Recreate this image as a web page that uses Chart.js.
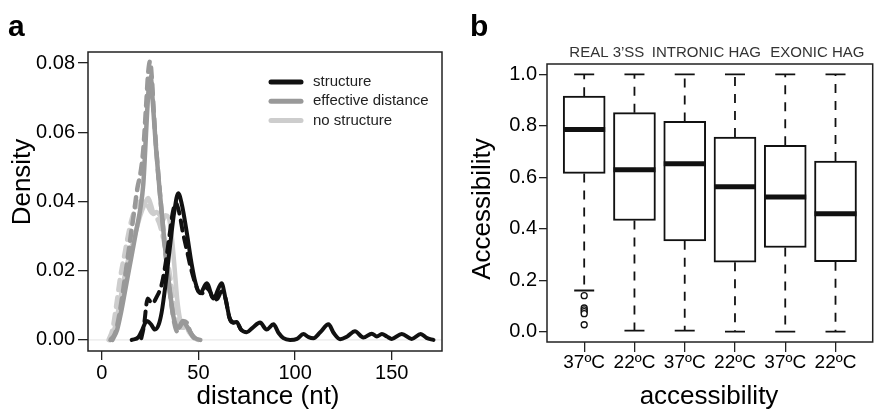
<!DOCTYPE html>
<html><head><meta charset="utf-8">
<script src="https://cdn.jsdelivr.net/npm/chart.js@4.4.0/dist/chart.umd.min.js"></script>
<style>
html,body{margin:0;padding:0;background:#fff;overflow:hidden;width:874px;height:413px;}
#ca{position:absolute;left:0;top:0;}
#cb{position:absolute;left:440px;top:0;}
</style></head><body>
<canvas id="ca" width="446" height="413"></canvas>
<canvas id="cb" width="438" height="413"></canvas>
<script>
// ---------- Panel a: density curves (x = distance nt, y = density) ----------
const structure = [[15.5,0],[19,0.0008],[21,0.003],[23.3,0.0055],[25.5,0.0045],[27.5,0.003],[29.5,0.0045],[31,0.008],[33,0.016],[35.3,0.027],[37.5,0.037],[39.6,0.0424],[41.5,0.039],[44,0.031],[46.5,0.022],[48.5,0.0165],[50.9,0.0135],[54.3,0.0164],[57.8,0.012],[62,0.0164],[64,0.012],[66.4,0.0058],[68,0.005],[69.8,0.0052],[72,0.003],[75,0.0022],[78,0.0035],[81.9,0.005],[85.3,0.003],[88.8,0.0045],[91.5,0.002],[94,0.0005],[97.4,0],[101,0.0003],[104.3,0.0017],[107,0.0008],[109.5,0.0005],[113,0.0022],[117.3,0.0045],[120,0.002],[123.3,0.0002],[127,0.001],[131,0.0025],[135.3,0.0007],[139.7,0.0018],[142.3,0.001],[144.9,0.0017],[147.5,0.001],[150,0.0003],[155.2,0.0017],[160.3,0.0003],[165,0.0017],[168,0.0006],[171.6,0]];
const structureDashed = [[20.5,0.0005],[21.8,0.004],[23.8,0.012],[26,0.0105],[28.5,0.0125],[31,0.016],[33,0.022],[35,0.03],[36.8,0.037],[38.3,0.0395],[40,0.037],[42,0.031],[44,0.026],[46,0.021],[48,0.017],[50,0.014],[52,0.0135],[54,0.015],[56,0.014],[58,0.0115],[60,0.012],[62,0.014],[64,0.012],[66,0.0065],[68,0.005],[70,0.0048],[72,0.003]];
const effective = [[5.5,0],[8,0.003],[10,0.008],[12,0.014],[14,0.02],[16,0.026],[18,0.032],[20,0.038],[21.5,0.045],[22.5,0.055],[23.5,0.066],[24.5,0.074],[25.3,0.076],[26.5,0.068],[28,0.056],[29.5,0.046],[31,0.037],[32.5,0.028],[34,0.02],[35.5,0.013],[37,0.007],[38.5,0.004],[40,0.0035],[41.5,0.005],[43,0.0048],[45,0.003],[47,0.0012],[49,0.0003],[51,0]];
const effectiveDashed = [[4.5,0],[7,0.002],[9,0.007],[11,0.014],[13,0.022],[15,0.03],[17,0.038],[18.5,0.044],[20,0.048],[21.5,0.055],[23,0.068],[24,0.077],[25,0.0805],[26,0.075],[27,0.065],[28.5,0.053],[30,0.043],[31.5,0.034],[33,0.025],[34.5,0.017],[36,0.0105],[37.5,0.005],[39,0.0025],[40.5,0.004],[42,0.0055],[44,0.005],[46,0.002],[48,0.0005],[50,0]];
const noStructure = [[4,0],[6,0.002],[8,0.007],[10,0.013],[12,0.019],[14,0.024],[16,0.028],[18,0.032],[20,0.036],[22,0.039],[24,0.041],[25.5,0.039],[27,0.0365],[28.5,0.037],[30,0.036],[31.5,0.0345],[33,0.036],[34.5,0.0355],[36,0.031],[37.5,0.022],[39,0.012],[40.5,0.006],[42,0.0035],[44,0.0038],[46,0.002],[48,0.0005],[50,0]];
const noStructureDashed = [[3.5,0],[5.5,0.003],[7.5,0.01],[9.5,0.018],[11.5,0.024],[13.5,0.03],[15.5,0.035],[17.5,0.038],[19.5,0.04],[21.5,0.04],[23.5,0.039],[25.5,0.037],[27.5,0.036],[29.5,0.034],[31.5,0.03],[33.5,0.025],[35.5,0.018],[37.5,0.01],[39.5,0.005],[41.5,0.0035],[43.5,0.0035],[45.5,0.002],[47.5,0.0006],[49.5,0]];
const distanceTicks = [0, 50, 100, 150];
const densityTicks = [0, 0.02, 0.04, 0.06, 0.08];
const legendLabels = ['structure', 'effective distance', 'no structure'];

// ---------- Panel b: accessibility box plots ----------
const conditions = ['37ºC', '22ºC', '37ºC', '22ºC', '37ºC', '22ºC'];
const groupLabels = ['REAL 3\u2019SS', 'INTRONIC HAG', 'EXONIC HAG'];
const groupCenters = [1.45, 3.43, 5.64];
const whiskerHigh = [1.0, 1.0, 1.0, 1.0, 1.0, 1.0];
const q3 = [0.915, 0.851, 0.817, 0.756, 0.724, 0.663];
const median = [0.786, 0.629, 0.652, 0.563, 0.523, 0.458];
const q1 = [0.615, 0.432, 0.353, 0.270, 0.327, 0.272];
const whiskerLow = [0.160, 0.004, 0.004, 0.0, 0.0, 0.0];
const outliers = [0.14, 0.092, 0.085, 0.078, 0.07, 0.027];
const accessibilityTicks = [0, 0.2, 0.4, 0.6, 0.8, 1.0];

const FONT = "'Liberation Sans', Arial, Helvetica, sans-serif";
const BLACK = '#111', GRAY = '#999', LIGHT = '#cdcdcd';

function txt(ctx, s, x, y, size, o) {
  o = o || {};
  ctx.save();
  ctx.font = (o.bold ? 'bold ' : '') + size + 'px ' + FONT;
  ctx.fillStyle = o.color || '#000';
  ctx.textAlign = o.align || 'center';
  ctx.textBaseline = o.base || 'middle';
  ctx.translate(x, y);
  if (o.rot) ctx.rotate(o.rot);
  ctx.fillText(s, 0, 0);
  ctx.restore();
}
function frame(chart) {
  const a = chart.chartArea, ctx = chart.ctx;
  ctx.save(); ctx.strokeStyle = '#222'; ctx.lineWidth = 1.5;
  ctx.strokeRect(a.left, a.top, a.right - a.left, a.bottom - a.top);
  ctx.restore();
}
const pts = arr => arr.map(p => ({x: p[0], y: p[1]}));
const lineDs = (arr, color, w, dash) => ({
  data: pts(arr), borderColor: color, borderWidth: w, borderDash: dash || [],
  pointRadius: 0, fill: false, cubicInterpolationMode: 'monotone',
  borderCapStyle: 'round', borderJoinStyle: 'round'
});

const panelA = {
  id: 'panelA',
  beforeDatasetsDraw(chart) {
    const ctx = chart.ctx, a = chart.chartArea, y = chart.scales.y;
    const y0 = y.getPixelForValue(0);
    ctx.save(); ctx.strokeStyle = '#e3e3e3'; ctx.lineWidth = 1;
    ctx.beginPath(); ctx.moveTo(a.left, y0); ctx.lineTo(a.right, y0); ctx.stroke(); ctx.restore();
  },
  afterDraw(chart) {
    const ctx = chart.ctx;
    frame(chart);
    txt(ctx, 'a', 8, 28, 30, {bold: true, align: 'left'});
    txt(ctx, 'Density', 23, 182, 26, {rot: -Math.PI / 2});
    txt(ctx, 'distance (nt)', 268, 397, 26);
    const cols = [BLACK, GRAY, LIGHT];
    legendLabels.forEach((l, i) => {
      const yy = 82 + i * 19.3;
      ctx.save(); ctx.strokeStyle = cols[i]; ctx.lineWidth = 5; ctx.lineCap = 'round';
      ctx.beginPath(); ctx.moveTo(271, yy); ctx.lineTo(301, yy); ctx.stroke(); ctx.restore();
      txt(ctx, l, 313, yy, 15, {align: 'left', color: '#222'});
    });
  }
};

new Chart(document.getElementById('ca'), {
  type: 'line',
  data: { datasets: [
    lineDs(structure, BLACK, 4),
    lineDs(structureDashed, BLACK, 4, [10, 7]),
    lineDs(effectiveDashed, GRAY, 4.5, [10, 7]),
    lineDs(effective, GRAY, 4.5),
    lineDs(noStructureDashed, LIGHT, 4.5, [10, 7]),
    lineDs(noStructure, LIGHT, 4.5)
  ]},
  options: {
    responsive: false, animation: false, devicePixelRatio: 1,
    layout: { padding: { top: 52, right: 4, left: 0, bottom: 0 } },
    plugins: { legend: { display: false }, tooltip: { enabled: false } },
    scales: {
      x: { type: 'linear', min: -7.1, max: 176,
        afterBuildTicks: s => { s.ticks = distanceTicks.map(v => ({value: v})); },
        afterFit: s => { s.height = 62; },
        ticks: { autoSkip: false, maxRotation: 0, padding: 1, color: '#000', font: {family: FONT, size: 20}, callback: v => String(v) },
        grid: { drawOnChartArea: false, drawTicks: true, tickLength: 9, color: '#222', lineWidth: 1.3 },
        border: { display: false } },
      y: { type: 'linear', min: -0.0032, max: 0.0832,
        afterBuildTicks: s => { s.ticks = densityTicks.map(v => ({value: v})); },
        afterFit: s => { s.width = 88; },
        ticks: { autoSkip: false, padding: 3, color: '#000', font: {family: FONT, size: 20}, callback: v => Number(v).toFixed(2) },
        grid: { drawOnChartArea: false, drawTicks: true, tickLength: 10, color: '#222', lineWidth: 1.3 },
        border: { display: false } }
    }
  },
  plugins: [panelA]
});

const panelB = {
  id: 'panelB',
  afterDatasetsDraw(chart) {
    const ctx = chart.ctx, x = chart.scales.x, y = chart.scales.y;
    ctx.save(); ctx.strokeStyle = BLACK;
    conditions.forEach((c, i) => {
      const px = x.getPixelForValue(i + 1);
      ctx.lineWidth = 1.8; ctx.setLineDash([9, 8]);
      ctx.beginPath();
      ctx.moveTo(px, y.getPixelForValue(q3[i])); ctx.lineTo(px, y.getPixelForValue(whiskerHigh[i]));
      ctx.moveTo(px, y.getPixelForValue(q1[i])); ctx.lineTo(px, y.getPixelForValue(whiskerLow[i]));
      ctx.stroke();
      ctx.setLineDash([]); ctx.lineWidth = 1.8;
      ctx.beginPath();
      [whiskerHigh[i], whiskerLow[i]].forEach(v => { const py = y.getPixelForValue(v); ctx.moveTo(px - 10, py); ctx.lineTo(px + 10, py); });
      ctx.stroke();
      ctx.lineWidth = 5;
      const pm = y.getPixelForValue(median[i]);
      ctx.beginPath(); ctx.moveTo(px - 21, pm); ctx.lineTo(px + 21, pm); ctx.stroke();
    });
    ctx.restore();
  },
  afterDraw(chart) {
    const ctx = chart.ctx, x = chart.scales.x;
    frame(chart);
    txt(ctx, 'b', 30, 28, 30, {bold: true, align: 'left'});
    txt(ctx, 'Accessibility', 43, 209, 26, {rot: -Math.PI / 2});
    txt(ctx, 'accessibility', 269, 397, 26);
    groupCenters.forEach((v, i) => txt(ctx, groupLabels[i], x.getPixelForValue(v), 53, 15, {color: '#333'}));
  }
};

new Chart(document.getElementById('cb'), {
  type: 'bar',
  data: { datasets: [
    { type: 'scatter', data: outliers.map(v => ({x: 1, y: v})), pointStyle: 'circle', pointRadius: 3,
      borderColor: BLACK, backgroundColor: '#fff', borderWidth: 1.3 },
    { type: 'bar', data: conditions.map((c, i) => ({x: i + 1, y: [q1[i], q3[i]]})),
      backgroundColor: '#fff', borderColor: BLACK, borderWidth: 2, borderSkipped: false, barThickness: 42 }
  ]},
  options: {
    responsive: false, animation: false, devicePixelRatio: 1,
    layout: { padding: { top: 64, right: 0, left: 0, bottom: 0 } },
    plugins: { legend: { display: false }, tooltip: { enabled: false } },
    scales: {
      x: { type: 'linear', min: 0.26, max: 6.74, offset: false,
        afterBuildTicks: s => { s.ticks = conditions.map((c, i) => ({value: i + 1})); },
        afterFit: s => { s.height = 71; },
        ticks: { autoSkip: false, maxRotation: 0, padding: -1, color: '#000', font: {family: FONT, size: 19}, callback: (v, i) => conditions[i] },
        grid: { offset: false, drawOnChartArea: false, drawTicks: true, tickLength: 10, color: '#222', lineWidth: 1.3 },
        border: { display: false } },
      y: { type: 'linear', min: -0.04, max: 1.04,
        afterBuildTicks: s => { s.ticks = accessibilityTicks.map(v => ({value: v})); },
        afterFit: s => { s.width = 107; },
        ticks: { autoSkip: false, padding: 2, color: '#000', font: {family: FONT, size: 20}, callback: v => Number(v).toFixed(1) },
        grid: { drawOnChartArea: false, drawTicks: true, tickLength: 8, color: '#222', lineWidth: 1.3 },
        border: { display: false } }
    }
  },
  plugins: [panelB]
});
</script>
</body></html>
